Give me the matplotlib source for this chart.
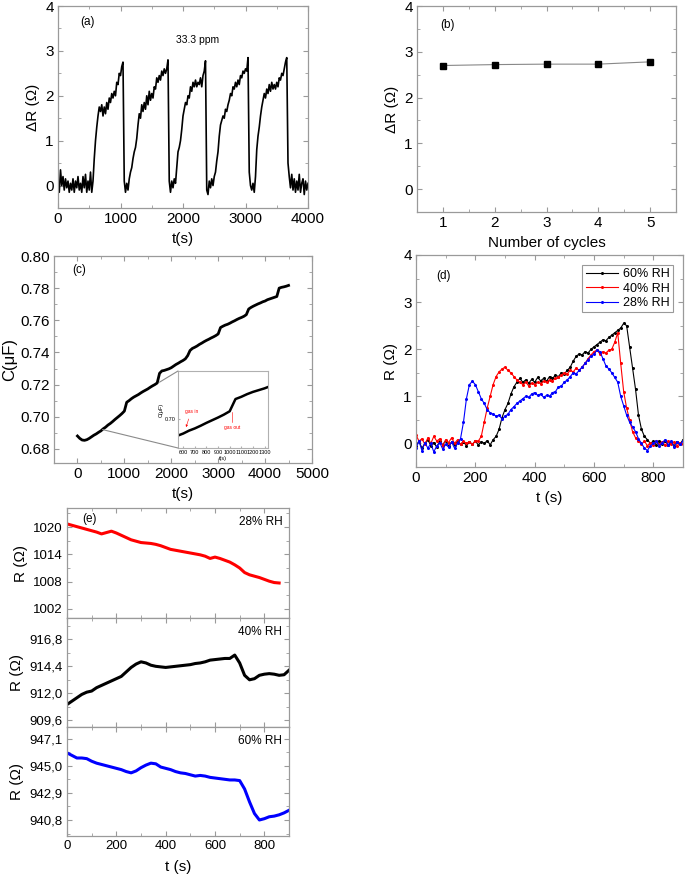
import numpy as np
import matplotlib
matplotlib.use("Agg")
import matplotlib.pyplot as plt
from matplotlib.ticker import MultipleLocator, FixedLocator, FuncFormatter
from matplotlib.patches import ConnectionPatch

plt.rcParams['font.family'] = ['Liberation Sans', 'DejaVu Sans']

# ---------------- data ----------------
# (a) response cycles, 33.3 ppm, sampled every 20 s
a_time = np.arange(0, 4001, 20)
a_dR = [
    0.10, -0.15, 0.35, 0.00, 0.20, -0.10, 0.15, -0.05, 0.10, -0.15,   # 0-180
    0.05, -0.10, 0.15, -0.15, 0.10, -0.05, 0.20, -0.10, 0.05, -0.15,  # 200-380
    0.20, -0.05, 0.25, -0.15, 0.10, -0.10, 0.30, -0.15, 0.10, 0.60,   # 400-580
    1.00, 1.30, 1.55, 1.75, 1.65, 1.80, 1.55, 1.75, 1.60, 1.85,       # 600-780
    1.70, 1.95, 1.85, 2.05, 1.95, 2.10, 2.00, 2.30, 2.25, 2.50,       # 800-980
    2.45, 2.65, 2.75, 0.10, -0.15, 0.05, -0.10, 0.15, 0.30, 0.40,     # 1000-1180
    0.60, 0.75, 0.85, 1.05, 1.35, 1.60, 1.50, 1.80, 1.65, 1.85,       # 1200-1380
    1.70, 2.00, 1.80, 2.10, 1.90, 2.05, 1.95, 2.20, 2.15, 2.40,       # 1400-1580
    2.30, 2.45, 2.35, 2.55, 2.45, 2.60, 2.50, 2.60, 2.80, 0.10,       # 1600-1780
    -0.15, 0.10, -0.05, 0.15, 0.05, 0.40, 0.75, 0.85, 1.00, 1.25,     # 1800-1980
    1.55, 1.70, 1.85, 1.80, 2.00, 1.95, 2.20, 2.10, 2.30, 2.20,       # 2000-2180
    2.35, 2.20, 2.30, 2.25, 2.40, 2.20, 2.45, 2.55, 2.78, -0.10,      # 2200-2380
    -0.20, 0.10, -0.05, 0.15, 0.00, 0.20, 0.30, 0.55, 0.75, 1.10,     # 2400-2580
    1.35, 1.45, 1.55, 1.50, 1.70, 1.65, 1.80, 1.90, 2.05, 2.00,       # 2600-2780
    2.20, 2.15, 2.30, 2.20, 2.35, 2.25, 2.45, 2.40, 2.55, 2.50,       # 2800-2980
    2.60, 2.55, 2.85, 0.30, 0.00, -0.10, 0.05, -0.15, 0.20, 0.80,     # 3000-3180
    1.10, 1.30, 1.55, 1.75, 1.90, 2.05, 1.95, 2.15, 2.05, 2.25,       # 3200-3380
    2.10, 2.30, 2.15, 2.25, 2.15, 2.30, 2.20, 2.40, 2.35, 2.50,       # 3400-3580
    2.45, 2.60, 2.75, 2.85, 0.50, 0.20, -0.05, 0.25, -0.10, 0.15,     # 3600-3780
    -0.15, 0.10, -0.10, 0.25, -0.15, 0.05, 0.15, -0.20, 0.10, -0.10,  # 3800-3980
    0.05,                                                             # 4000
]

# (b) response per cycle
b_cycles = [1, 2, 3, 4, 5]
b_dR = [2.70, 2.72, 2.73, 2.73, 2.78]

# (c) capacitance, sampled every 50 s
c_time = np.arange(0, 4501, 50)
c_cap = [
    0.6880, 0.6865, 0.6855, 0.6853, 0.6857, 0.6865, 0.6875, 0.6885, 0.6893, 0.6903,  # 0-450
    0.6912, 0.6925, 0.6935, 0.6948, 0.6958, 0.6970, 0.6983, 0.6995, 0.7007, 0.7020,  # 500-950
    0.7035, 0.7090, 0.7100, 0.7112, 0.7122, 0.7130, 0.7138, 0.7148, 0.7157, 0.7165,  # 1000-1450
    0.7173, 0.7183, 0.7192, 0.7200, 0.7210, 0.7270, 0.7285, 0.7288, 0.7293, 0.7298,  # 1500-1950
    0.7305, 0.7315, 0.7325, 0.7333, 0.7342, 0.7350, 0.7360, 0.7380, 0.7412, 0.7425,  # 2000-2450
    0.7432, 0.7440, 0.7450, 0.7458, 0.7467, 0.7475, 0.7482, 0.7490, 0.7497, 0.7505,  # 2500-2950
    0.7515, 0.7555, 0.7563, 0.7570, 0.7575, 0.7582, 0.7590, 0.7597, 0.7605, 0.7612,  # 3000-3450
    0.7618, 0.7625, 0.7635, 0.7670, 0.7680, 0.7688, 0.7695, 0.7702, 0.7708, 0.7715,  # 3500-3950
    0.7720, 0.7728, 0.7733, 0.7738, 0.7743, 0.7748, 0.7800, 0.7805, 0.7808, 0.7812,  # 4000-4450
    0.7817,                                                                          # 4500
]

# (d) humidity dependence, sampled every 10 s
d_time = np.arange(0, 901, 10)
d_labels = ["60% RH", "40% RH", "28% RH"]
d_rh60 = [
    -0.05, 0.05, -0.10, 0.00, 0.08, -0.05, 0.02, -0.08, 0.05, -0.03,
    0.06, -0.06, 0.03, -0.04, 0.05, -0.02, 0.04, -0.05, 0.03, -0.02,
    0.05, -0.03, 0.04, 0.00, 0.06, -0.03, 0.08, 0.15, 0.30, 0.55,
    0.72, 0.85, 1.05, 1.20, 1.30, 1.38, 1.30, 1.35, 1.28, 1.36,
    1.30, 1.40, 1.33, 1.38, 1.32, 1.42, 1.38, 1.45, 1.42, 1.50,
    1.48, 1.55, 1.62, 1.75, 1.85, 1.90, 1.88, 1.95, 1.92, 2.00,
    2.05, 2.10, 2.15, 2.20, 2.18, 2.25, 2.30, 2.35, 2.40, 2.45,
    2.55, 2.50, 2.05, 1.60, 1.15, 0.60, 0.30, 0.15, 0.08, 0.00,
    0.05, -0.03, 0.06, -0.02, 0.05, -0.04, 0.03, -0.05, 0.04, -0.02,
    0.08,
]
d_rh40 = [
    0.18, 0.05, 0.10, -0.02, 0.12, 0.00, 0.15, 0.05, 0.10, -0.05,
    0.08, 0.02, 0.12, 0.00, 0.08, -0.02, 0.05, 0.00, 0.04, -0.02,
    0.06, 0.05, 0.15, 0.45, 0.75, 1.00, 1.25, 1.42, 1.52, 1.58,
    1.62, 1.55, 1.50, 1.42, 1.35, 1.30, 1.25, 1.30, 1.22, 1.28,
    1.25, 1.30, 1.27, 1.32, 1.30, 1.35, 1.33, 1.38, 1.40, 1.45,
    1.50, 1.48, 1.55, 1.52, 1.60, 1.55, 1.62, 1.70, 1.80, 1.88,
    1.95, 1.98, 1.90, 1.95, 1.92, 1.98, 2.00, 2.15, 2.35, 1.70,
    1.10, 0.75, 0.50, 0.25, 0.12, 0.05, -0.02, 0.05, -0.05, 0.02,
    -0.03, 0.05, -0.02, 0.04, -0.04, 0.05, -0.02, 0.03, -0.05, 0.02,
    -0.02,
]
d_rh28 = [
    -0.10, 0.05, -0.15, 0.02, -0.10, 0.00, -0.18, -0.05, 0.02, -0.12,
    -0.02, -0.08, 0.03, -0.10, 0.00, 0.10, 0.45, 0.95, 1.25, 1.32,
    1.25, 1.10, 0.95, 0.85, 0.72, 0.65, 0.62, 0.58, 0.60, 0.52,
    0.58, 0.62, 0.72, 0.78, 0.85, 0.90, 0.95, 1.00, 0.98, 1.05,
    1.08, 1.02, 1.05, 0.98, 1.02, 1.00, 1.08, 1.10, 1.20, 1.22,
    1.30, 1.35, 1.42, 1.50, 1.48, 1.55, 1.62, 1.70, 1.78, 1.85,
    1.90, 1.98, 1.95, 1.80, 1.65, 1.58, 1.50, 1.40, 1.30, 1.00,
    0.80, 0.60, 0.45, 0.35, 0.25, 0.10, 0.00, -0.10, -0.15, -0.05,
    0.00, 0.05, -0.05, 0.02, 0.08, -0.03, 0.05, -0.08, 0.03, -0.02,
    0.05,
]

# (e) absolute resistance, sampled every 20 s
e_time_28 = np.arange(0, 861, 20)
e_r28 = [
    1020.7, 1020.4, 1020.1, 1019.8, 1019.5, 1019.2, 1018.9, 1018.5, 1018.8, 1019.1,
    1018.7, 1018.2, 1017.7, 1017.2, 1016.9, 1016.6, 1016.5, 1016.4, 1016.2, 1015.9,
    1015.5, 1015.1, 1014.9, 1014.7, 1014.5, 1014.3, 1014.1, 1013.9, 1013.6, 1013.1,
    1013.4, 1013.1, 1012.7, 1012.3, 1011.7, 1011.0, 1010.0, 1009.5, 1009.2, 1008.9,
    1008.5, 1008.1, 1007.8, 1007.7,
]
e_time = np.arange(0, 901, 20)
e_r40 = [
    911.0, 911.3, 911.6, 911.9, 912.1, 912.2, 912.5, 912.7, 912.9, 913.1,
    913.3, 913.5, 913.9, 914.3, 914.6, 914.8, 914.7, 914.5, 914.4, 914.35,
    914.3, 914.35, 914.4, 914.45, 914.5, 914.55, 914.65, 914.7, 914.8, 914.95,
    915.0, 915.05, 915.1, 915.1, 915.4, 914.7, 913.6, 913.2, 913.3, 913.6,
    913.7, 913.75, 913.7, 913.6, 913.65, 914.05,
]
e_r60 = [
    946.0, 945.8, 945.6, 945.6, 945.55, 945.35, 945.2, 945.1, 945.0, 944.9,
    944.8, 944.7, 944.55, 944.45, 944.6, 944.85, 945.05, 945.2, 945.15, 944.9,
    944.8, 944.7, 944.55, 944.45, 944.4, 944.3, 944.2, 944.25, 944.2, 944.1,
    944.05, 944.0, 943.95, 943.9, 943.9, 943.85, 943.2, 942.2, 941.3, 940.8,
    940.9, 941.05, 941.1, 941.2, 941.35, 941.55,
]
e_ticks_28 = [1002, 1008, 1014, 1020]
e_ticks_40 = [909.6, 912.0, 914.4, 916.8]
e_ticks_60 = [940.8, 942.9, 945.0, 947.1]

# ---------------- figure ----------------
W, H = 685, 881
fig = plt.figure(figsize=(W / 100, H / 100), dpi=100)

def add_ax(l, t, r, b):
    return fig.add_axes([l / W, 1 - b / H, (r - l) / W, (b - t) / H])

SP = '#9a9a9a'
TICK_FS = 11

def style(ax, fs=TICK_FS):
    for s in ax.spines.values():
        s.set_color(SP)
        s.set_linewidth(0.9)
    ax.tick_params(which='both', direction='in', top=True, right=True,
                   color=SP, labelsize=fs, pad=3)
    ax.tick_params(which='major', length=3.5)
    ax.tick_params(which='minor', length=2)

# (a)
ax_a = add_ax(58, 6, 308, 208)
ax_a.plot(a_time, a_dR, color='black', lw=1.2)
ax_a.set_xlim(0, 4000)
ax_a.set_ylim(-0.5, 4)
ax_a.xaxis.set_major_locator(MultipleLocator(1000))
ax_a.xaxis.set_minor_locator(MultipleLocator(500))
ax_a.yaxis.set_major_locator(MultipleLocator(1))
ax_a.yaxis.set_minor_locator(MultipleLocator(0.5))
style(ax_a)
ax_a.set_xlabel('t(s)', fontsize=11, labelpad=4)
ax_a.set_ylabel('ΔR (Ω)', fontsize=11, labelpad=4)
ax_a.text(0.09, 0.92, '(a)', transform=ax_a.transAxes, fontsize=8.5, va='center')
ax_a.text(0.56, 0.83, '33.3 ppm', transform=ax_a.transAxes, fontsize=7.5,
          ha='center', va='center')

# (b)
ax_b = add_ax(417, 6, 676, 212)
ax_b.plot(b_cycles, b_dR, color='#888888', lw=0.8, marker='s', ms=4,
          mfc='black', mec='black')
ax_b.set_xlim(0.5, 5.5)
ax_b.set_ylim(-0.5, 4)
ax_b.xaxis.set_major_locator(MultipleLocator(1))
ax_b.xaxis.set_minor_locator(MultipleLocator(0.5))
ax_b.yaxis.set_major_locator(MultipleLocator(1))
ax_b.yaxis.set_minor_locator(MultipleLocator(0.5))
style(ax_b)
ax_b.set_xlabel('Number of cycles', fontsize=11, labelpad=4)
ax_b.set_ylabel('ΔR (Ω)', fontsize=11, labelpad=4)
ax_b.text(0.09, 0.91, '(b)', transform=ax_b.transAxes, fontsize=8.5, va='center')

# (c)
ax_c = add_ax(54, 256, 312, 463)
ax_c.plot(c_time, c_cap, color='black', lw=2.0)
ax_c.set_xlim(-500, 5000)
ax_c.set_ylim(0.6712, 0.80)
ax_c.xaxis.set_major_locator(MultipleLocator(1000))
ax_c.xaxis.set_minor_locator(MultipleLocator(500))
ax_c.yaxis.set_major_locator(FixedLocator([0.68, 0.70, 0.72, 0.74, 0.76, 0.78, 0.80]))
ax_c.yaxis.set_minor_locator(MultipleLocator(0.01))
ax_c.yaxis.set_major_formatter(FuncFormatter(lambda v, p: f'{v:.2f}'))
style(ax_c)
ax_c.set_xlabel('t(s)', fontsize=11, labelpad=4)
ax_c.set_ylabel('C(μF)', fontsize=12, labelpad=2)
ax_c.text(0.07, 0.93, '(c)', transform=ax_c.transAxes, fontsize=8.5, va='center')

# inset of (c)
ax_i = add_ax(178, 371, 268, 448)
ax_i.plot(c_time, c_cap, color='black', lw=1.8)
ax_i.set_xlim(555, 1330)
ax_i.set_ylim(0.687, 0.7216)
ax_i.xaxis.set_major_locator(MultipleLocator(100))
ax_i.yaxis.set_major_locator(FixedLocator([0.70]))
ax_i.yaxis.set_major_formatter(FuncFormatter(lambda v, p: f'{v:.2f}'))
for s in ax_i.spines.values():
    s.set_color('#b0b0b0')
    s.set_linewidth(0.8)
ax_i.tick_params(direction='in', length=1.5, labelsize=4, pad=1.5, color='#b0b0b0')
ax_i.set_xlabel('t(s)', fontsize=4, labelpad=1)
ax_i.set_ylabel('C(μF)', fontsize=4, labelpad=1)
ax_i.annotate('gas in', xy=(617, 0.6952), xytext=(612, 0.7025), fontsize=3.5,
              color='red', ha='left', va='bottom',
              arrowprops=dict(arrowstyle='-|>', color='red', lw=0.4,
                              mutation_scale=3))
ax_i.plot([1020, 1020], [0.7033, 0.6985], color='red', lw=0.4)
ax_i.text(1020, 0.6975, 'gas out', fontsize=3.5, color='red', ha='center', va='top')
for xyA, xyB in [((534, 0.6920), (0, 0)), ((1750, 0.7215), (0, 1))]:
    con = ConnectionPatch(xyA=xyA, coordsA=ax_c.transData, xyB=xyB,
                          coordsB=ax_i.transAxes, color='#8a8a8a', lw=0.8)
    fig.add_artist(con)

# (d)
ax_d = add_ax(416, 255, 683, 467)
for vals, col, lab in [(d_rh60, 'black', d_labels[0]),
                       (d_rh40, 'red', d_labels[1]),
                       (d_rh28, 'blue', d_labels[2])]:
    ax_d.plot(d_time, vals, color=col, lw=0.8, marker='o', ms=1.2,
              mec=col, mfc=col, label=lab)
ax_d.set_xlim(0, 900)
ax_d.set_ylim(-0.5, 4)
ax_d.xaxis.set_major_locator(MultipleLocator(200))
ax_d.xaxis.set_minor_locator(MultipleLocator(100))
ax_d.yaxis.set_major_locator(MultipleLocator(1))
ax_d.yaxis.set_minor_locator(MultipleLocator(0.5))
style(ax_d)
ax_d.set_xlabel('t (s)', fontsize=11, labelpad=4)
ax_d.set_ylabel('R (Ω)', fontsize=11, labelpad=4)
ax_d.text(0.075, 0.9, '(d)', transform=ax_d.transAxes, fontsize=8.5, va='center')
leg = ax_d.legend(loc='upper right', fontsize=9, frameon=True, fancybox=False,
                  borderpad=0.25, labelspacing=0.2, handlelength=2.6,
                  handletextpad=0.4, borderaxespad=0.8)
leg.get_frame().set_edgecolor('#808080')
leg.get_frame().set_linewidth(0.8)

# (e)
e_panels = [
    (508, 618, e_time_28, e_r28, 'red', (1000.0, 1024.2), e_ticks_28, 3, '28% RH'),
    (618, 727, e_time, e_r40, 'black', (909.0, 918.7), e_ticks_40, 1.2, '40% RH'),
    (727, 836, e_time, e_r60, 'blue', (939.56, 948.0), e_ticks_60, 1.05, '60% RH'),
]
for i, (top, bot, tt, vals, col, ylim, yt, ymin, lab) in enumerate(e_panels):
    ax = add_ax(67, top, 289, bot)
    ax.plot(tt, vals, color=col, lw=2.2)
    ax.set_xlim(0, 900)
    ax.set_ylim(*ylim)
    ax.xaxis.set_major_locator(MultipleLocator(200))
    ax.xaxis.set_minor_locator(MultipleLocator(100))
    ax.yaxis.set_major_locator(FixedLocator(yt))
    ax.yaxis.set_minor_locator(MultipleLocator(ymin))
    if i == 0:
        ax.yaxis.set_major_formatter(FuncFormatter(lambda v, p: f'{v:.0f}'))
    else:
        ax.yaxis.set_major_formatter(
            FuncFormatter(lambda v, p: f'{v:.1f}'.replace('.', ',')))
    style(ax, fs=9.5)
    ax.set_ylabel('R (Ω)', fontsize=11, labelpad=4)
    ax.text(0.97, 0.87, lab, transform=ax.transAxes, fontsize=8.5,
            ha='right', va='center')
    if i == 0:
        ax.text(0.07, 0.9, '(e)', transform=ax.transAxes, fontsize=8.5, va='center')
    if i < 2:
        ax.tick_params(labelbottom=False)
    else:
        ax.set_xlabel('t (s)', fontsize=11, labelpad=6)

fig.savefig('out.png', dpi=100)
